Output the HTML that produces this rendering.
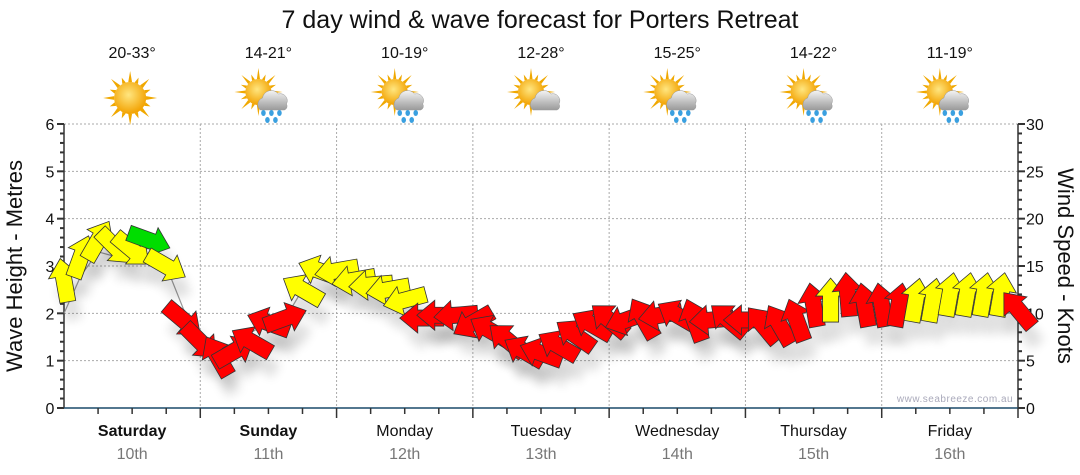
<!DOCTYPE html>
<html><head><meta charset="utf-8">
<style>
body{margin:0;background:#fff;font-family:"Liberation Sans","DejaVu Sans",sans-serif;}
svg{display:block}
</style></head>
<body>
<svg id="chart" width="1080" height="475" viewBox="0 0 1080 475">
<defs>
<radialGradient id="sunG" cx="45%" cy="40%" r="60%"><stop offset="0" stop-color="#ffe680"/><stop offset="1" stop-color="#f2a100"/></radialGradient>
<linearGradient id="cloudG" x1="0" y1="0" x2="0" y2="1"><stop offset="0" stop-color="#f4f4f4"/><stop offset="1" stop-color="#9a9a9a"/></linearGradient>
<filter id="sh" x="-50%" y="-50%" width="200%" height="200%"><feGaussianBlur stdDeviation="5"/></filter>
</defs>
<text x="540" y="28" text-anchor="middle" font-size="25" fill="#111">7 day wind &amp; wave forecast for Porters Retreat</text>
<g id="header"></g>
<g id="grid"></g>
<g id="axes"></g>
<g id="wave"></g>
<g id="shadows"></g>
<g id="arrows"></g>
<text x="955" y="402" text-anchor="middle" font-size="10" fill="#aab" letter-spacing="0.5">www.seabreeze.com.au</text>
<text transform="translate(22,266) rotate(-90)" text-anchor="middle" font-size="22" fill="#111">Wave Height - Metres</text>
<text transform="translate(1058,266) rotate(90)" text-anchor="middle" font-size="22" fill="#111">Wind Speed - Knots</text>
</svg>
<script>
const days=["Saturday","Sunday","Monday","Tuesday","Wednesday","Thursday","Friday"];
const dates=["10th","11th","12th","13th","14th","15th","16th"];
const temps=["20-33°","14-21°","10-19°","12-28°","15-25°","14-22°","11-19°"];
const weather=["sun","rain","rain","cloud","rain","rain","rain"];
const waveTicks=[0,1,2,3,4,5,6];
const windTicks=[0,5,10,15,20,25,30];
// 3-hourly wind speed (knots)
const windSpeed=[13.5,16,17.7,17,16.7,17.7,15,9.3,
 7,5.5,6,7,9,9.5,12.5,14.5,
 14.5,13.5,13,12.5,11.4,9.5,9.8,9.8,
 9,8.2,7.2,6,5.8,6.6,7.7,8.8,
 9.3,9.3,9.5,9.8,9.8,9.3,9.3,9.3,
 9.3,8.8,8.8,9.3,10.9,11.4,12,10.9,
 10.9,10.9,11.4,11.4,12,12,12,12,10.4];
// arrow pointing direction on screen (deg, 0=right, 90=down)
const windDir=[-100,-70,-60,45,40,20,30,40,
 45,-120,-30,-150,-160,-20,-150,-160,
 170,170,175,170,165,180,180,175,
 150,-150,-140,-150,-160,-150,-145,-150,
 -140,160,-120,170,-150,-110,175,-140,
 180,-130,-120,-110,-100,-90,-95,-100,
 -100,-80,-80,-80,-80,-80,-80,-80,-130];
const windCol=["y","y","y","y","y","g","y","r",
 "r","r","r","r","r","r","y","y",
 "y","y","y","y","y","r","r","r",
 "r","r","r","r","r","r","r","r",
 "r","r","r","r","r","r","r","r",
 "r","r","r","r","r","y","r","r",
 "r","r","y","y","y","y","y","y","r"];
const waveHeight=[2.0,2.8,3.3,3.2,3.1,3.4,3.0,2.1,
 1.4,1.2,1.4,1.6,1.8,1.9,2.5,2.9,
 2.9,2.7,2.6,2.5,2.3,1.9,2.0,2.0,
 1.8,1.6,1.4,1.2,1.2,1.3,1.5,1.8,
 1.9,1.9,1.9,2.0,2.0,1.9,1.9,1.9,
 1.9,1.8,1.8,1.9,2.2,2.3,2.4,2.2,
 2.2,2.2,2.3,2.3,2.4,2.4,2.4,2.4,2.1];

const NS="http://www.w3.org/2000/svg";
const L=64,R=1018,T=124,B=408,DW=(R-L)/7;
const xH=h=>L+h*DW/24;
const yW=v=>B-v*(B-T)/6;
const yS=v=>B-v*(B-T)/30;
function mk(tag,attrs,parent){const e=document.createElementNS(NS,tag);for(const k in attrs)e.setAttribute(k,attrs[k]);parent.appendChild(e);return e;}
const grid=document.getElementById('grid'),axes=document.getElementById('axes'),header=document.getElementById('header');

waveTicks.forEach((v,i)=>{
 if(v>0){const g=mk('line',{x1:L,x2:R,y1:yW(v),y2:yW(v),stroke:'#aaa','stroke-dasharray':'2,2'},grid);
 
 }
 const t=mk('text',{x:L-14,y:yW(v)+6,'text-anchor':'middle','font-size':16,fill:'#111'},axes);t.textContent=v;
 
 
});
windTicks.forEach(v=>{
 const t=mk('text',{x:R+8,y:yS(v)+6,'font-size':16,fill:'#111'},axes);t.textContent=v;
 
 
});
for(let i=0;i<=30;i++){
 const y=B-i*(B-T)/30,len=(i%5==0)?7:4;
 mk('line',{x1:L-len,x2:L,y1:y,y2:y,stroke:'#333','stroke-width':2},axes);
 mk('line',{x1:R,x2:R+len,y1:y,y2:y,stroke:'#333','stroke-width':2},axes);
}
mk('line',{x1:L,x2:L,y1:T,y2:B,stroke:'#333','stroke-width':1.5},axes);
mk('line',{x1:R,x2:R,y1:T,y2:B,stroke:'#333','stroke-width':1.5},axes);
mk('line',{x1:L,x2:R,y1:B,y2:B,stroke:'#1a4a6a','stroke-width':1.5},axes);
for(let d=0;d<7;d++){
 const x0=L+d*DW,cx=x0+DW/2;
 if(d>0){const g=mk('line',{x1:x0,x2:x0,y1:T,y2:B,stroke:'#aaa','stroke-dasharray':'2,2'},grid);
 
 }
 for(let q=1;q<=4;q++){const x=x0+q*DW/4;mk('line',{x1:x,x2:x,y1:B,y2:B+(q==4?10:6),stroke:'#333','stroke-width':1.5},axes);}
 const dn=mk('text',{x:cx,y:436,'text-anchor':'middle','font-size':16,fill:'#111','font-weight':d<2?'bold':'normal'},axes);dn.textContent=days[d];
 
 
 const dt=mk('text',{x:cx,y:459,'text-anchor':'middle','font-size':16,fill:'#777'},axes);dt.textContent=dates[d];
 
 
 const tp=mk('text',{x:cx,y:58,'text-anchor':'middle','font-size':16,fill:'#111'},header);tp.textContent=temps[d];
 
 
 const ic=mk('g',{transform:`translate(${cx-2},98)`},header);
 
 
 const sx=weather[d]=='sun'?0:-8,sy=weather[d]=='sun'?0:-6,sr=weather[d]=='sun'?16:13;
 for(let k=0;k<16;k++){const a=k*Math.PI/8,l=(k%2?sr+6:sr+11);
  mk('polygon',{points:`${sx+Math.cos(a-0.12)*sr},${sy+Math.sin(a-0.12)*sr} ${sx+Math.cos(a)*l},${sy+Math.sin(a)*l} ${sx+Math.cos(a+0.12)*sr},${sy+Math.sin(a+0.12)*sr}`,fill:'#f0a800'},ic);}
 mk('circle',{cx:sx,cy:sy,r:sr,fill:'url(#sunG)'},ic);
 if(weather[d]!='sun'){
  mk('path',{d:'M-6,12 a7,7 0 0 1 2,-12 a9,9 0 0 1 16,-4 a7,7 0 0 1 8,10 a4,4 0 0 1 -2,6 z',fill:'url(#cloudG)',stroke:'#999','stroke-width':0.5},ic);
  if(weather[d]=='rain'){[[-3,15],[5,15],[13,15],[1,22],[9,22]].forEach(p=>mk('ellipse',{cx:p[0],cy:p[1],rx:2.3,ry:3,fill:'#3aa0e0'},ic));}
 }
}
// wave line
const wp=waveHeight.map((v,i)=>`${xH(i*3)},${yW(v)}`).join(' ');
const wl=mk('polyline',{points:wp,fill:'none',stroke:'#999','stroke-width':1.2},document.getElementById('wave'));


// arrows
const colors={y:'#ffff00',r:'#ff0000',g:'#00dd00'};
const sh=document.getElementById('shadows'),ar=document.getElementById('arrows');
const shape="-22,-8 4,-8 4,-15 22,0 4,15 4,8 -22,8";
windSpeed.forEach((v,i)=>{
 const x=xH(i*3),y=yS(v);
 const s=mk('polygon',{points:shape,fill:'#000',opacity:0.12,filter:'url(#sh)',transform:`translate(${x+6},${y+18}) rotate(${windDir[i]})`},sh);
 const a=mk('polygon',{points:shape,fill:colors[windCol[i]],stroke:'#333','stroke-width':0.8,transform:`translate(${x},${y}) rotate(${windDir[i]})`},ar);
 
 
});
</script>
</body></html>
